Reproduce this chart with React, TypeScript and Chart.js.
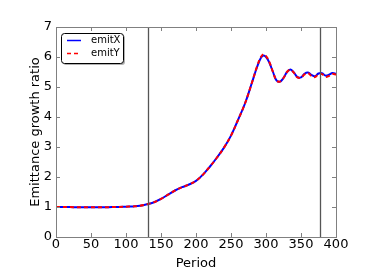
import React, { useEffect, useRef } from "react";
import { Chart, registerables } from "chart.js";

Chart.register(...registerables);

const periods = [0, 10, 20, 30, 40, 50, 60, 70, 80, 90, 100, 110, 120, 130, 140, 150, 160, 170, 180, 190, 200, 210, 220, 230, 240, 250, 260, 270, 280, 287, 293, 297, 301, 305, 310, 315, 320, 325, 330, 335, 340, 345, 350, 355, 360, 365, 370, 375, 380, 385, 390, 395, 400];
const emitX = [1.0, 1.0, 1.0, 0.99, 0.99, 0.99, 0.99, 0.99, 1.0, 1.0, 1.01, 1.02, 1.04, 1.09, 1.16, 1.27, 1.41, 1.55, 1.66, 1.75, 1.87, 2.08, 2.35, 2.65, 2.98, 3.38, 3.9, 4.45, 5.15, 5.65, 5.98, 6.05, 5.97, 5.8, 5.5, 5.22, 5.18, 5.3, 5.5, 5.58, 5.48, 5.33, 5.32, 5.44, 5.48, 5.4, 5.36, 5.45, 5.46, 5.38, 5.41, 5.47, 5.44];
const emitY = [1.0, 1.0, 1.0, 0.99, 0.99, 0.99, 0.99, 0.99, 1.0, 1.0, 1.01, 1.02, 1.04, 1.09, 1.16, 1.27, 1.41, 1.55, 1.66, 1.75, 1.87, 2.08, 2.35, 2.65, 2.98, 3.38, 3.9, 4.45, 5.15, 5.67, 6.01, 6.09, 6.0, 5.82, 5.5, 5.22, 5.18, 5.3, 5.5, 5.57, 5.47, 5.32, 5.31, 5.42, 5.46, 5.37, 5.33, 5.43, 5.43, 5.34, 5.37, 5.43, 5.42];
const markers = [132, 377];
const xTicks = [0, 50, 100, 150, 200, 250, 300, 350, 400];
const yTicks = [0, 1, 2, 3, 4, 5, 6, 7];
const seriesNames = ["emitX", "emitY"];

const FONT = "'DejaVu Sans', sans-serif";

export default function App() {
  const ref = useRef<HTMLCanvasElement>(null);
  useEffect(() => {
    document.body.style.margin = "0";
    const canvas = ref.current!;
    const decor = {
      id: "decor",
      afterDatasetsDraw(chart: any) {
        const { ctx, chartArea: a, scales } = chart;
        const xs = scales.x, ys = scales.y;
        ctx.save();
        ctx.strokeStyle = "#555555";
        ctx.lineWidth = 1.3;
        markers.forEach((m) => {
          const px = Math.round(xs.getPixelForValue(m)) + 0.5;
          ctx.beginPath();
          ctx.moveTo(px, a.top);
          ctx.lineTo(px, a.bottom);
          ctx.stroke();
        });
        ctx.strokeStyle = "#808080";
        ctx.lineWidth = 1;
        ctx.strokeRect(Math.round(a.left) + 0.5, Math.round(a.top) + 0.5, Math.round(a.right - a.left), Math.round(a.bottom - a.top));
        xTicks.forEach((t) => {
          const px = Math.round(xs.getPixelForValue(t)) + 0.5;
          ctx.beginPath();
          ctx.moveTo(px, a.bottom);
          ctx.lineTo(px, a.bottom - 4);
          ctx.moveTo(px, a.top);
          ctx.lineTo(px, a.top + 4);
          ctx.stroke();
        });
        yTicks.forEach((t) => {
          const py = Math.round(ys.getPixelForValue(t)) + 0.5;
          ctx.beginPath();
          ctx.moveTo(a.left, py);
          ctx.lineTo(a.left + 4, py);
          ctx.moveTo(a.right, py);
          ctx.lineTo(a.right - 4, py);
          ctx.stroke();
        });
        const lx = a.left + 5, ly = a.top + 6, lw = 62, lh = 30;
        ctx.fillStyle = "rgba(0,0,0,0.3)";
        ctx.beginPath();
        ctx.roundRect(lx + 2, ly + 2, lw, lh, 3);
        ctx.fill();
        ctx.fillStyle = "#ffffff";
        ctx.strokeStyle = "#000000";
        ctx.lineWidth = 1;
        ctx.beginPath();
        ctx.roundRect(lx + 0.5, ly + 0.5, lw, lh, 3);
        ctx.fill();
        ctx.stroke();
        const colors = ["#0000ff", "#ff0000"];
        const dashes = [[], [4, 3]];
        seriesNames.forEach((n, i) => {
          const yy = ly + 7.5 + i * 13;
          ctx.strokeStyle = colors[i];
          ctx.lineWidth = 1.5;
          ctx.setLineDash(dashes[i]);
          ctx.beginPath();
          ctx.moveTo(lx + 6, yy);
          ctx.lineTo(lx + 20, yy);
          ctx.stroke();
          ctx.setLineDash([]);
          ctx.fillStyle = "#000";
          ctx.font = `10px ${FONT}`;
          ctx.textBaseline = "middle";
          ctx.textAlign = "left";
          ctx.fillText(n, lx + 30, yy);
        });
        ctx.restore();
      },
    };
    const chart = new Chart(canvas, {
      type: "line",
      data: {
        datasets: [
          {
            label: seriesNames[0],
            data: periods.map((p, i) => ({ x: p, y: emitX[i] })),
            borderColor: "#0000ff",
            borderWidth: 2,
            pointRadius: 0,
            tension: 0.4,
            fill: false,
            order: 2,
          },
          {
            label: seriesNames[1],
            data: periods.map((p, i) => ({ x: p, y: emitY[i] })),
            borderColor: "#ff0000",
            borderWidth: 2,
            borderDash: [4, 3],
            pointRadius: 0,
            tension: 0.4,
            fill: false,
            order: 1,
          },
        ],
      },
      options: {
        animation: false,
        responsive: false,
        layout: { padding: { top: 27, right: 38, left: 28, bottom: 9 } },
        plugins: { legend: { display: false }, tooltip: { enabled: false } },
        scales: {
          x: {
            type: "linear",
            min: 0,
            max: 400,
            afterBuildTicks: (s: any) => {
              s.ticks = xTicks.map((v) => ({ value: v }));
            },
            afterFit: (s: any) => {
              s.height = 34;
            },
            grid: { display: false, drawTicks: false },
            border: { display: false },
            ticks: { color: "#000", font: { family: FONT, size: 13 }, padding: 0, maxRotation: 0 },
            title: { display: true, text: "Period", color: "#000", font: { family: FONT, size: 13 }, padding: 0 },
          },
          y: {
            type: "linear",
            min: 0,
            max: 7,
            afterBuildTicks: (s: any) => {
              s.ticks = yTicks.map((v) => ({ value: v }));
            },
            afterFit: (s: any) => {
              s.width = 28;
            },
            grid: { display: false, drawTicks: false },
            border: { display: false },
            ticks: { color: "#000", font: { family: FONT, size: 13 }, padding: 4 },
            title: { display: true, text: "Emittance growth ratio", color: "#000", font: { family: FONT, size: 13 }, padding: 0 },
          },
        },
      },
      plugins: [decor],
    } as any);
    return () => chart.destroy();
  }, []);
  return (
    <div style={{ width: 374, height: 280 }}>
      <canvas ref={ref} width={374} height={280} style={{ display: "block" }} />
    </div>
  );
}
